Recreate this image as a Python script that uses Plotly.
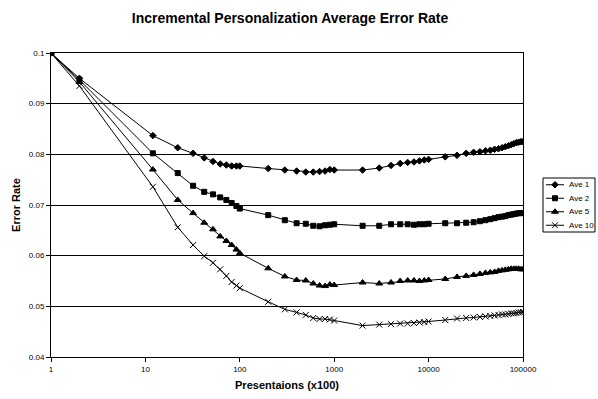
import plotly.graph_objects as go

presentations = [1, 2, 12, 22, 32, 42, 52, 62, 72, 82, 92, 100,
                 200, 300, 400, 500, 600, 700, 800, 900, 1000,
                 2000, 3000, 4000, 5000, 6000, 7000, 8000, 9000, 10000,
                 15000, 20000, 25000, 30000, 35000, 40000, 45000, 50000, 55000,
                 60000, 65000, 70000, 75000, 80000, 85000, 90000, 95000, 100000]

ave1 = [0.1, 0.0950, 0.0837, 0.0813, 0.0802, 0.0793, 0.0786, 0.0781, 0.0779, 0.0777, 0.0777, 0.0777,
        0.0772, 0.0769, 0.0767, 0.0765, 0.0765, 0.0766, 0.0767, 0.0770, 0.0769,
        0.0769, 0.0773, 0.0778, 0.0782, 0.0784, 0.0785, 0.0787, 0.0789, 0.0790,
        0.0795, 0.0798, 0.0802, 0.0804, 0.0805, 0.0807, 0.0808, 0.0810, 0.0811,
        0.0813, 0.0815, 0.0817, 0.0819, 0.0821, 0.0823, 0.0824, 0.0825, 0.0825]

ave2 = [0.1, 0.0947, 0.0802, 0.0763, 0.0738, 0.0726, 0.0721, 0.0715, 0.0710, 0.0704, 0.0698, 0.0693,
        0.0680, 0.0670, 0.0664, 0.0663, 0.0659, 0.0658, 0.0660, 0.0661, 0.0662,
        0.0659, 0.0659, 0.0662, 0.0662, 0.0662, 0.0661, 0.0662, 0.0662, 0.0663,
        0.0664, 0.0664, 0.0665, 0.0666, 0.0668, 0.0670, 0.0672, 0.0674, 0.0676,
        0.0677, 0.0678, 0.0680, 0.0681, 0.0682, 0.0683, 0.0684, 0.0684, 0.0684]

ave5 = [0.1, 0.0943, 0.0770, 0.0710, 0.0684, 0.0665, 0.0652, 0.0638, 0.0629, 0.0621, 0.0612, 0.0605,
        0.0575, 0.0559, 0.0552, 0.0551, 0.0545, 0.0541, 0.0540, 0.0543, 0.0542,
        0.0547, 0.0545, 0.0547, 0.0550, 0.0551, 0.0551, 0.0550, 0.0551, 0.0552,
        0.0554, 0.0558, 0.0560, 0.0562, 0.0564, 0.0566, 0.0567, 0.0568, 0.0570,
        0.0571, 0.0572, 0.0573, 0.0574, 0.0574, 0.0574, 0.0574, 0.0573, 0.0573]

ave10 = [0.1, 0.0935, 0.0736, 0.0656, 0.0621, 0.0599, 0.0586, 0.0573, 0.0560, 0.0548, 0.0541, 0.0536,
         0.0509, 0.0494, 0.0488, 0.0483, 0.0477, 0.0475, 0.0475, 0.0474, 0.0472,
         0.0462, 0.0464, 0.0465, 0.0466, 0.0466, 0.0467, 0.0468, 0.0469, 0.0470,
         0.0473, 0.0476, 0.0477, 0.0478, 0.0479, 0.0480, 0.0481, 0.0482, 0.0483,
         0.0484, 0.0484, 0.0485, 0.0486, 0.0486, 0.0487, 0.0488, 0.0488, 0.0489]

series_names = ["Ave 1", "Ave 2", "Ave 5", "Ave 10"]
series_values = [ave1, ave2, ave5, ave10]
symbols = ["diamond", "square", "triangle-up", "x-thin"]
sizes = [5, 5, 6, 6]

x_tick_vals = [1, 10, 100, 1000, 10000, 100000]
x_tick_text = ["1", "10", "100", "1000", "10000", "100000"]
y_tick_vals = [0.04, 0.05, 0.06, 0.07, 0.08, 0.09, 0.1]
y_tick_text = ["0.04", "0.05", "0.06", "0.07", "0.08", "0.09", "0.1"]

FONT = "Liberation Sans, Arial, sans-serif"
W, H = 598, 399
# plot area in pixels
PL, PR, PT, PB = 51, 523, 53, 357
# legend box in pixels
LL, LR, LT, LB = 543, 595, 178, 232
LEG_W, LEG_H = LR - LL, LB - LT
ROW_H = LEG_H / len(series_names)

fig = go.Figure()
for name, vals, sym, sz in zip(series_names, series_values, symbols, sizes):
    fig.add_trace(go.Scatter(
        x=presentations, y=vals, name=name, mode="lines+markers",
        line=dict(color="black", width=1),
        marker=dict(symbol=sym, size=sz, color="black",
                    line=dict(color="black", width=1)),
        showlegend=False,
    ))

# custom legend (Excel style) drawn on a small helper axis
for i, (name, sym, sz) in enumerate(zip(series_names, symbols, sizes)):
    yc = ROW_H * (i + 0.5)
    fig.add_trace(go.Scatter(
        x=[3, 21], y=[yc, yc], mode="lines", xaxis="x2", yaxis="y2",
        line=dict(color="black", width=1), showlegend=False, hoverinfo="skip",
        cliponaxis=False,
    ))
    fig.add_trace(go.Scatter(
        x=[12], y=[yc], mode="markers", xaxis="x2", yaxis="y2",
        marker=dict(symbol=sym, size=sz, color="black", line=dict(color="black", width=1)),
        showlegend=False, hoverinfo="skip", cliponaxis=False,
    ))
    fig.add_annotation(
        x=24, y=yc, xref="x2", yref="y2", text=name, showarrow=False,
        xanchor="left", yanchor="middle",
        font=dict(family=FONT, size=8, color="black"),
    )

fig.add_shape(type="rect", xref="paper", yref="paper",
              x0=LL / W, x1=LR / W, y0=1 - LB / H, y1=1 - LT / H,
              line=dict(color="black", width=1), fillcolor="rgba(0,0,0,0)")

fig.update_layout(
    width=W, height=H,
    margin=dict(l=0, r=0, t=0, b=0, autoexpand=False),
    paper_bgcolor="white", plot_bgcolor="white",
    font=dict(family=FONT, color="black", size=8),
    title=dict(text="<b>Incremental Personalization Average Error Rate</b>",
               font=dict(family=FONT, size=14, color="black"),
               x=0.485, xanchor="center", y=0.955, yanchor="middle"),
    showlegend=False,
    xaxis=dict(
        domain=[PL / W, PR / W], anchor="y",
        type="log", range=[0, 5],
        tickvals=x_tick_vals, ticktext=x_tick_text,
        showgrid=False, showline=True, linecolor="black", linewidth=1, mirror=True,
        ticks="outside", ticklen=4, tickcolor="black",
        tickfont=dict(family=FONT, size=8, color="black"),
        title=dict(text="<b>Presentaions (x100)</b>",
                   font=dict(family=FONT, size=11, color="black"), standoff=8),
        zeroline=False,
    ),
    yaxis=dict(
        domain=[1 - PB / H, 1 - PT / H], anchor="x",
        range=[0.04, 0.1],
        tickvals=y_tick_vals, ticktext=y_tick_text,
        showgrid=True, gridcolor="black", gridwidth=1,
        showline=True, linecolor="black", linewidth=1, mirror=True,
        ticks="outside", ticklen=4, tickcolor="black",
        tickfont=dict(family=FONT, size=8, color="black"),
        title=dict(text="<b>Error Rate</b>",
                   font=dict(family=FONT, size=11, color="black"), standoff=5),
        zeroline=False,
    ),
    xaxis2=dict(domain=[LL / W, LR / W], range=[0, LEG_W], visible=False,
                anchor="y2", fixedrange=True),
    yaxis2=dict(domain=[1 - LB / H, 1 - LT / H], range=[LEG_H, 0], visible=False,
                anchor="x2", fixedrange=True),
)

fig.write_html("out.html")
